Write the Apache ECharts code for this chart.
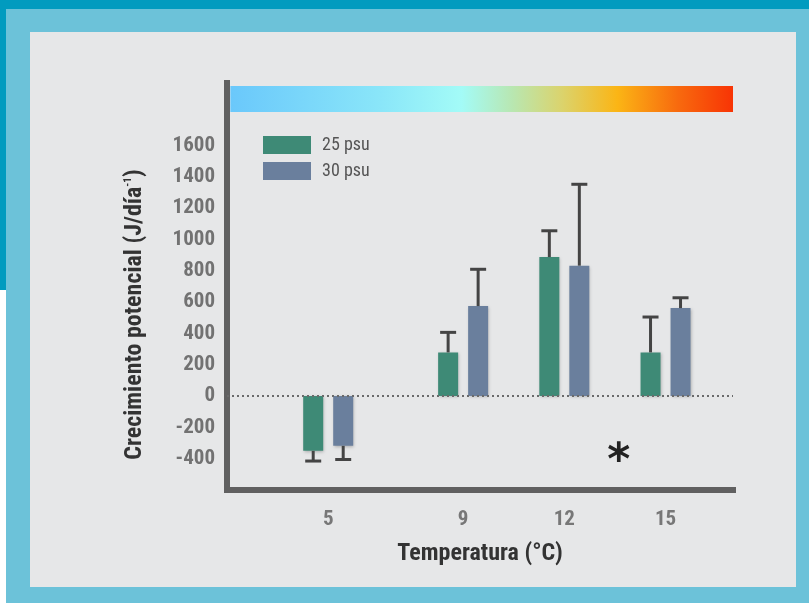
<!DOCTYPE html>
<html>
<head>
<meta charset="UTF-8">
<title>Crecimiento potencial</title>
<script src="https://cdn.jsdelivr.net/npm/echarts@6/dist/echarts.min.js"></script>
<style>
  html, body { margin: 0; padding: 0; background: #fff; }
  #frame { position: relative; width: 809px; height: 603px; overflow: hidden; }
  .top { position: absolute; left: 0; top: 0; width: 809px; height: 9px; background: #019bbf; }
  .left { position: absolute; left: 0; top: 0; width: 6px; height: 290px; background: #019bbf; }
  .light { position: absolute; left: 6px; top: 9px; right: 0; bottom: 0; background: #6cc2d9; }
  .panel { position: absolute; left: 30px; top: 32px; width: 766px; height: 555px; background: #e6e7e8; }
  #main { position: absolute; left: 0; top: 0; width: 809px; height: 603px; }
</style>
</head>
<body>
<div id="frame">
  <div class="top"></div>
  <div class="left"></div>
  <div class="light"></div>
  <div class="panel"></div>
  <div id="main"></div>
</div>
<script type="text/javascript">
// temperaturas (°C)
var temps = [5, 9, 12, 15];
// crecimiento potencial (J/día-1)
var psu25 = [-350, 279, 888, 279];
var psu30 = [-318, 575, 833, 562];
// error (barra de error, magnitud)
var err25 = [65, 128, 168, 226];
var err30 = [87, 235, 520, 66];
var yLabels = [-400, -200, 0, 200, 400, 600, 800, 1000, 1200, 1400, 1600];

var font = "'Roboto Condensed', 'DejaVu Sans Condensed', 'Liberation Sans Narrow', Roboto, sans-serif";
var green = '#3e8a76';
var blue = '#6a7f9d';

function pairs(vals) {
  return temps.map(function (t, i) { return [t, vals[i]]; });
}
function errData(vals, errs) {
  return temps.map(function (t, i) { return [t, vals[i], errs[i]]; });
}
function errRender(offset) {
  return function (params, api) {
    var x = api.value(0), v = api.value(1), e = api.value(2);
    var end = v < 0 ? v - e : v + e;
    var p0 = api.coord([x, v]);
    var p1 = api.coord([x, end]);
    var cx = p0[0] + offset;
    var st = { stroke: '#444', lineWidth: 3 };
    return {
      type: 'group',
      children: [
        { type: 'line', shape: { x1: cx, y1: p0[1], x2: cx, y2: p1[1] }, style: st },
        { type: 'line', shape: { x1: cx - 8, y1: p1[1], x2: cx + 8, y2: p1[1] }, style: st }
      ]
    };
  };
}

var myChart = echarts.init(document.getElementById('main'));
var barShadow = { shadowBlur: 3, shadowColor: 'rgba(0,0,0,0.25)', shadowOffsetX: 1, shadowOffsetY: 1 };

var option = {
  animation: false,
  grid: { left: 227, right: 76, top: 83, bottom: 113 },
  legend: {
    orient: 'vertical',
    left: 263, top: 136, padding: 0,
    itemWidth: 48, itemHeight: 18, itemGap: 8,
    icon: 'rect',
    data: ['25 psu', '30 psu'],
    textStyle: { fontFamily: font, fontSize: 18, color: '#555', padding: [0, 0, 0, 6] }
  },
  xAxis: {
    type: 'value',
    min: 2, max: 17, interval: 1,
    name: 'Temperatura (°C)',
    nameLocation: 'middle',
    nameGap: 52,
    nameTextStyle: { fontFamily: font, fontSize: 24, fontWeight: 'bold', color: '#333' },
    axisLine: { onZero: false, lineStyle: { color: '#606060', width: 6, cap: 'square' } },
    axisTick: { show: false },
    splitLine: { show: false },
    axisLabel: {
      margin: 19,
      fontFamily: font, fontSize: 21, fontWeight: 'bold', color: '#777',
      formatter: function (v) { return temps.indexOf(v) >= 0 ? String(v) : ''; }
    }
  },
  yAxis: {
    type: 'value',
    min: -600, max: 2000, interval: 200,
    name: 'Crecimiento potencial (J/día{sup|-1})',
    nameLocation: 'middle',
    nameGap: 80,
    nameTextStyle: {
      fontFamily: font, fontSize: 24, fontWeight: 'bold', color: '#333',
      padding: [0, 56, 0, 0],
      rich: { sup: { fontFamily: font, fontSize: 11, fontWeight: 'bold', color: '#333', verticalAlign: 'top', padding: [0, 0, 11, 0] } }
    },
    axisLine: { onZero: false, lineStyle: { color: '#606060', width: 6, cap: 'square' } },
    axisTick: { show: false },
    splitLine: { show: false },
    axisLabel: {
      margin: 12,
      fontFamily: font, fontSize: 21, fontWeight: 'bold', color: '#727272',
      formatter: function (v) { return yLabels.indexOf(v) >= 0 ? String(v) : ''; }
    }
  },
  series: [
    {
      name: '25 psu', type: 'bar', barWidth: 20, barGap: '50%',
      itemStyle: Object.assign({ color: green }, barShadow),
      data: pairs(psu25),
      markLine: {
        silent: true, symbol: 'none', label: { show: false },
        lineStyle: { color: '#6a6a6a', width: 2, type: [2, 3] },
        data: [{ yAxis: 0 }]
      },
      markArea: {
        silent: true,
        itemStyle: {
          color: new echarts.graphic.LinearGradient(0, 0, 1, 0, [
            { offset: 0, color: '#6ac8fb' },
            { offset: 0.3, color: '#8ae6f9' },
            { offset: 0.46, color: '#a3fbf7' },
            { offset: 0.56, color: '#b8e7b2' },
            { offset: 0.66, color: '#dbd36c' },
            { offset: 0.77, color: '#fbb515' },
            { offset: 0.89, color: '#f86a0e' },
            { offset: 1, color: '#f83405' }
          ])
        },
        data: [[{ xAxis: 2.1, yAxis: 1815 }, { xAxis: 17, yAxis: 1981 }]]
      }
    },
    {
      name: '30 psu', type: 'bar', barWidth: 20,
      itemStyle: Object.assign({ color: blue }, barShadow),
      data: pairs(psu30),
      markPoint: {
        silent: true,
        symbolSize: 0,
        label: { show: true, formatter: '*', fontFamily: 'DejaVu Sans', fontSize: 44, fontWeight: 'bold', color: '#222', offset: [0, 10] },
        data: [{ coord: [13.17, -358] }]
      }
    },
    {
      type: 'custom', renderItem: errRender(-15), data: errData(psu25, err25),
      encode: { x: 0, y: 1 }, z: 3
    },
    {
      type: 'custom', renderItem: errRender(15), data: errData(psu30, err30),
      encode: { x: 0, y: 1 }, z: 3
    }
  ]
};
myChart.setOption(option);
</script>
</body>
</html>
